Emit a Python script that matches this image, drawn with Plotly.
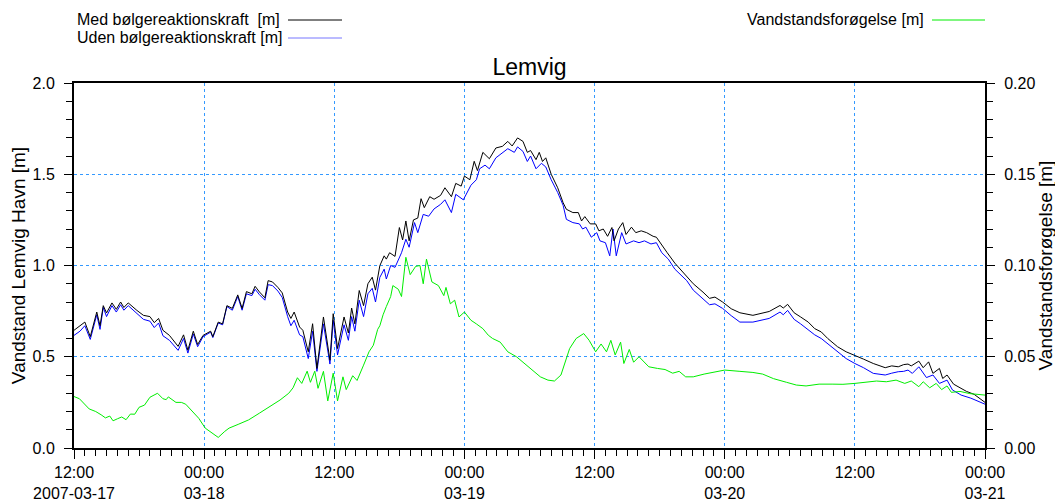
import pandas as pd
import plotly.graph_objects as go
from plotly.subplots import make_subplots

# Timer efter 2007-03-17 12:00 og vandstand (m)
t_med = [0, 0.55, 1.0, 1.5, 2.1, 2.4, 2.7, 3.0, 3.5, 3.9, 4.3, 4.6, 5.0, 5.8, 6.4, 7.0, 7.4, 7.8, 8.2, 8.8,
         9.6, 10.1, 10.5, 11.0, 11.4, 11.9, 12.6, 12.8, 13.3, 13.7, 14.1, 14.6, 15.1, 15.5, 15.9, 16.4, 16.7, 17.1, 17.6, 17.9,
         18.3, 18.8, 19.2, 19.7, 20.0, 20.3, 20.8, 21.1, 21.6, 22.0, 22.4, 23.0, 23.6, 23.9, 24.3, 24.9, 25.3, 25.6, 25.9, 26.3,
         26.7, 27.1, 27.5, 27.8, 28.2, 28.6, 28.8, 29.1, 29.6, 30.0, 30.3, 30.6, 30.9, 31.3, 31.7, 32.0, 32.3, 32.8, 33.2, 33.8,
         34.2, 34.8, 35.2, 35.7, 36.0, 36.5, 36.9, 37.2, 37.7, 38.3, 38.9, 39.5, 40.0, 40.4, 40.9, 41.4, 41.8, 42.1, 42.6, 42.9,
         43.2, 43.5, 44.0, 44.6, 45.1, 45.4, 46.0, 46.5, 46.8, 47.1, 47.6, 48.1, 48.4, 48.8, 49.2, 49.6, 49.8, 50.2, 50.6, 50.9,
         51.4, 51.8, 52.3, 52.8, 53.4, 53.7, 54.3, 54.7, 55.4, 55.8, 56.4, 57.1, 58.0, 58.6, 59.1, 59.8, 60.6, 61.4, 62.6, 63.5,
         64.1, 65.1, 65.4, 65.8, 66.4, 67.0, 67.7, 68.3, 68.9, 69.5, 70.4, 71.2, 72.0, 72.8, 73.7, 74.8, 75.4, 76.0, 76.5, 76.9,
         77.2, 77.9, 78.3, 78.8, 79.2, 79.8, 80.1, 80.5, 81.1, 81.7, 82.3, 83.0, 83.6, 84.0]
med = [0.645, 0.67, 0.69, 0.61, 0.745, 0.67, 0.78, 0.74, 0.795, 0.76, 0.80, 0.77, 0.795, 0.754, 0.727, 0.72, 0.687, 0.71, 0.645, 0.617,
       0.557, 0.62, 0.536, 0.64, 0.567, 0.617, 0.64, 0.61, 0.69, 0.68, 0.78, 0.765, 0.839, 0.765, 0.857, 0.845, 0.886, 0.855, 0.823, 0.917,
       0.91, 0.88, 0.85, 0.745, 0.71, 0.745, 0.663, 0.645, 0.527, 0.681, 0.436, 0.718, 0.481, 0.736, 0.545, 0.718, 0.63, 0.767, 0.68, 0.863,
       0.78, 0.90, 0.936, 0.865, 0.999, 1.053, 1.035, 1.07, 1.05, 1.208, 1.14, 1.244, 1.135, 1.25, 1.26, 1.366, 1.317, 1.377, 1.363, 1.384,
       1.426, 1.377, 1.45, 1.435, 1.49, 1.47, 1.571, 1.52, 1.62, 1.585, 1.644, 1.653, 1.68, 1.655, 1.699, 1.68, 1.62, 1.63, 1.58, 1.62,
       1.57, 1.59, 1.50, 1.426, 1.344, 1.308, 1.29, 1.29, 1.244, 1.268, 1.228, 1.228, 1.19, 1.20, 1.16, 1.208, 1.135, 1.20, 1.235, 1.17,
       1.21, 1.18, 1.19, 1.18, 1.16, 1.155, 1.108, 1.07, 1.013, 0.985, 0.945, 0.90, 0.854, 0.82, 0.827, 0.80, 0.763, 0.741, 0.727, 0.741,
       0.748, 0.781, 0.767, 0.787, 0.741, 0.718, 0.69, 0.654, 0.636, 0.60, 0.555, 0.527, 0.505, 0.487, 0.463, 0.44, 0.45, 0.445, 0.457, 0.46,
       0.45, 0.476, 0.44, 0.472, 0.409, 0.436, 0.381, 0.40, 0.35, 0.331, 0.31, 0.294, 0.269, 0.25]

t_uden = [0, 0.55, 1.0, 1.5, 2.1, 2.4, 2.7, 3.0, 3.5, 3.9, 4.3, 4.6, 5.0, 5.8, 6.4, 7.0, 7.4, 7.8, 8.2, 8.8,
          9.6, 10.1, 10.5, 11.0, 11.4, 11.9, 12.6, 12.8, 13.3, 13.7, 14.1, 14.6, 15.1, 15.5, 15.9, 16.4, 16.7, 17.1, 17.6, 17.9,
          18.3, 18.8, 19.2, 19.7, 20.0, 20.3, 20.8, 21.1, 21.6, 22.0, 22.4, 23.0, 23.6, 23.9, 24.3, 24.9, 25.3, 25.6, 25.9, 26.3,
          26.7, 27.1, 27.5, 27.8, 28.2, 28.6, 28.8, 29.2, 29.6, 30.2, 30.6, 30.9, 31.4, 31.7, 32.2, 32.7, 33.2, 33.8, 34.2, 34.8,
          35.2, 35.9, 36.6, 37.1, 37.4, 37.9, 38.3, 38.9, 39.5, 40.0, 40.6, 40.9, 41.4, 41.8, 42.1, 42.6, 43.1, 43.5, 44.0, 44.6,
          45.1, 45.4, 46.0, 46.6, 46.9, 47.2, 47.7, 48.2, 48.5, 49.0, 49.4, 49.7, 50.0, 50.5, 50.9, 51.6, 52.1, 52.6, 53.2, 53.7,
          54.2, 54.8, 55.4, 56.0, 56.5, 57.1, 58.0, 58.6, 59.1, 59.8, 60.6, 61.4, 62.6, 63.5, 64.1, 65.1, 65.4, 65.8, 66.4, 67.0,
          67.7, 68.3, 68.9, 69.5, 70.4, 71.2, 72.0, 72.8, 73.7, 74.8, 75.4, 76.0, 76.5, 76.9, 77.3, 77.9, 78.6, 79.2, 79.8, 80.5,
          81.0, 81.8, 82.7, 83.5, 84.0]
uden = [0.617, 0.64, 0.67, 0.595, 0.73, 0.65, 0.77, 0.72, 0.78, 0.745, 0.785, 0.755, 0.78, 0.735, 0.705, 0.695, 0.66, 0.685, 0.615, 0.59,
        0.535, 0.60, 0.52, 0.625, 0.555, 0.61, 0.635, 0.605, 0.685, 0.675, 0.775, 0.755, 0.83, 0.755, 0.845, 0.835, 0.87, 0.84, 0.81, 0.895,
        0.89, 0.86, 0.825, 0.72, 0.67, 0.70, 0.62, 0.61, 0.49, 0.64, 0.42, 0.68, 0.46, 0.70, 0.51, 0.675, 0.59, 0.72, 0.64, 0.81,
        0.72, 0.845, 0.875, 0.80, 0.935, 0.98, 0.926, 1.0, 0.99, 1.07, 1.144, 1.10, 1.235, 1.18, 1.28, 1.27, 1.31, 1.335, 1.36, 1.29,
        1.39, 1.36, 1.44, 1.47, 1.53, 1.55, 1.53, 1.59, 1.62, 1.64, 1.62, 1.65, 1.625, 1.57, 1.60, 1.53, 1.56, 1.54, 1.47, 1.40,
        1.33, 1.253, 1.235, 1.228, 1.20, 1.21, 1.155, 1.18, 1.135, 1.125, 1.053, 1.20, 1.053, 1.18, 1.118, 1.135, 1.125, 1.135, 1.118, 1.125,
        1.07, 1.035, 0.98, 0.944, 0.917, 0.865, 0.815, 0.785, 0.79, 0.765, 0.725, 0.69, 0.69, 0.70, 0.71, 0.745, 0.73, 0.754, 0.705, 0.68,
        0.65, 0.62, 0.60, 0.57, 0.527, 0.49, 0.463, 0.44, 0.409, 0.40, 0.41, 0.418, 0.42, 0.427, 0.409, 0.445, 0.386, 0.40, 0.354, 0.372,
        0.318, 0.29, 0.273, 0.25, 0.24]

t_forog = [0, 0.5, 1.4, 2.0, 2.5, 2.9, 3.3, 3.6, 4.0, 4.4, 4.8, 5.2, 5.6, 6.0, 6.5, 7.0, 7.7, 8.2, 8.5, 8.7,
           9.4, 9.9, 10.3, 10.7, 11.5, 12.1, 12.7, 13.3, 13.9, 14.3, 15.2, 16.1, 17.1, 18.0, 19.0, 19.8, 20.2, 20.6, 21.0, 21.5,
           21.8, 22.2, 22.5, 23.0, 23.4, 23.9, 24.3, 24.8, 25.1, 25.7, 26.1, 26.7, 27.2, 27.6, 28.0, 28.2, 28.5, 28.8, 29.2, 29.4,
           29.9, 30.2, 30.6, 31.0, 31.5, 31.9, 32.2, 32.5, 33.0, 33.6, 34.1, 34.3, 34.7, 35.1, 35.5, 36.0, 36.6, 37.1, 37.7, 38.2,
           38.6, 39.3, 40.0, 40.8, 41.4, 42.0, 42.6, 43.0, 43.7, 44.3, 44.9, 45.3, 45.7, 46.3, 47.0, 47.5, 48.1, 48.6, 49.1, 49.5,
           49.9, 50.4, 50.7, 51.2, 51.6, 52.1, 52.6, 53.0, 53.8, 54.5, 55.2, 55.8, 56.4, 57.1, 58.1, 59.0, 60.0, 61.4, 62.6, 63.5,
           64.5, 65.7, 66.6, 67.5, 68.7, 69.9, 70.9, 72.0, 73.0, 74.0, 74.9, 75.8, 76.6, 77.2, 77.9, 78.3, 78.9, 79.5, 80.0, 80.5,
           80.9, 81.7, 82.6, 83.6, 84.0]
forog = [0.0282, 0.027, 0.0214, 0.020, 0.0182, 0.0165, 0.0175, 0.0149, 0.016, 0.017, 0.0155, 0.0186, 0.0185, 0.0223, 0.0235, 0.0278, 0.030, 0.027, 0.0265, 0.028,
         0.025, 0.025, 0.024, 0.0214, 0.0163, 0.0109, 0.0082, 0.0058, 0.0091, 0.0109, 0.0131, 0.0154, 0.0191, 0.0227, 0.0263, 0.030, 0.033, 0.0385, 0.0354, 0.0421,
         0.036, 0.0421, 0.0327, 0.042, 0.0258, 0.041, 0.0258, 0.039, 0.032, 0.0396, 0.037, 0.0454, 0.0527, 0.0563, 0.065, 0.067, 0.073, 0.0775, 0.083, 0.089,
         0.087, 0.083, 0.1045, 0.095, 0.0995, 0.10, 0.09, 0.1035, 0.091, 0.089, 0.0835, 0.088, 0.079, 0.081, 0.0718, 0.0745, 0.070, 0.068, 0.0654, 0.0618,
         0.060, 0.058, 0.0527, 0.050, 0.047, 0.0436, 0.041, 0.039, 0.0372, 0.0367, 0.040, 0.0472, 0.0545, 0.060, 0.0627, 0.059, 0.0527, 0.057, 0.0527, 0.059,
         0.051, 0.058, 0.0463, 0.054, 0.047, 0.050, 0.047, 0.0445, 0.0436, 0.043, 0.041, 0.042, 0.039, 0.039, 0.0405, 0.0414, 0.0427, 0.042, 0.0414, 0.0405,
         0.038, 0.036, 0.0345, 0.034, 0.035, 0.035, 0.0349, 0.0354, 0.036, 0.0367, 0.0363, 0.0372, 0.0354, 0.0367, 0.0336, 0.0363, 0.033, 0.0354, 0.032, 0.034,
         0.0305, 0.031, 0.0298, 0.029, 0.029]

tick_hours = [0, 12, 24, 36, 48, 60, 72, 84]
tick_labels = ["12:00<br>2007-03-17", "00:00<br>03-18", "12:00", "00:00<br>03-19",
               "12:00", "00:00<br>03-20", "12:00", "00:00<br>03-21"]

start = pd.Timestamp("2007-03-17 12:00")


def tid(h):
    return start + pd.to_timedelta(h, unit="h")


FONT = "Liberation Sans, Arial, sans-serif"
GRID = "#3399ff"

fig = make_subplots(specs=[[{"secondary_y": True}]])
fig.add_trace(go.Scatter(x=tid(t_forog), y=forog, mode="lines", name="Vandstandsforøgelse [m]",
                         line=dict(color="#00ee00", width=1)), secondary_y=True)
fig.add_trace(go.Scatter(x=tid(t_uden), y=uden, mode="lines", name="Uden bølgereaktionskraft [m]",
                         line=dict(color="#0000ff", width=1)), secondary_y=False)
fig.add_trace(go.Scatter(x=tid(t_med), y=med, mode="lines", name="Med bølgereaktionskraft  [m]",
                         line=dict(color="#000000", width=1)), secondary_y=False)

# Siden har 8 px margen, så figuren gøres 8 px mindre og forskydes
fig.update_layout(
    width=1055, height=495,
    margin=dict(l=66, r=78, t=75, b=55, autoexpand=False),
    paper_bgcolor="white", plot_bgcolor="white",
    font=dict(family=FONT, size=16, color="black"),
    showlegend=False,
    title=dict(text="Lemvig", x=0.5, xref="paper", xanchor="center",
               y=1 - 59 / 495, yanchor="middle", font=dict(size=23)),
)

fig.update_xaxes(
    domain=[0, 1],
    range=[tid(0), tid(84)], tickmode="array", tickvals=tid(tick_hours), ticktext=tick_labels,
    showline=True, linecolor="black", linewidth=2, mirror=True, automargin=False,
    ticks="outside", ticklen=9, tickcolor="black", ticklabelstandoff=0,
    showgrid=True, gridcolor=GRID, griddash="dot", gridwidth=1,
    minor=dict(tickmode="linear", tick0=tid(0), dtick=3600000, ticks="outside", ticklen=6,
               tickcolor="black", showgrid=False),
    zeroline=False,
)
fig.update_yaxes(
    range=[0, 2.0], tickmode="linear", tick0=0, dtick=0.5, tickformat=".1f", automargin=False,
    title=dict(text="Vandstand Lemvig Havn [m]", font=dict(size=19), standoff=4),
    showline=True, linecolor="black", linewidth=2,
    ticks="outside", ticklen=8, tickcolor="black", ticklabelstandoff=6,
    showgrid=True, gridcolor=GRID, griddash="dot", gridwidth=1,
    minor=dict(dtick=0.1, ticks="outside", ticklen=6, tickcolor="black", showgrid=False),
    zeroline=False, secondary_y=False,
)
fig.update_yaxes(
    range=[0, 0.2], tickmode="linear", tick0=0, dtick=0.05, tickformat=".2f", automargin=False,
    title=dict(text="Vandstandsforøgelse [m]", font=dict(size=19), standoff=2),
    showline=True, linecolor="black", linewidth=2,
    ticks="outside", ticklen=8, tickcolor="black", ticklabelstandoff=6,
    showgrid=False,
    minor=dict(dtick=0.01, ticks="outside", ticklen=6, tickcolor="black", showgrid=False),
    zeroline=False, secondary_y=True,
)

# Signaturforklaring som tekst med linjestykke til højre (som i originalen)
W, H = 911.0, 365.0
def px(x):
    return (x - 74) / W
def py(y):
    return (448 - y) / H

legend_items = [
    ("Med bølgereaktionskraft  [m]", 75, 288, 342, 20, "#000000"),
    ("Uden bølgereaktionskraft [m]", 75, 288, 342, 38, "#7777ff"),
    ("Vandstandsforøgelse [m]", 745, 932, 985, 20, "#00ee00"),
]
for tekst, x_txt, x0, x1, y, farve in legend_items:
    fig.add_annotation(text=tekst, xref="paper", yref="paper", x=px(x_txt), y=py(y),
                       xanchor="left", yanchor="middle", showarrow=False, font=dict(size=16))
    fig.add_shape(type="line", xref="paper", yref="paper", x0=px(x0), x1=px(x1), y0=py(y), y1=py(y),
                  line=dict(color=farve, width=1))

fig.write_html("out.html")
